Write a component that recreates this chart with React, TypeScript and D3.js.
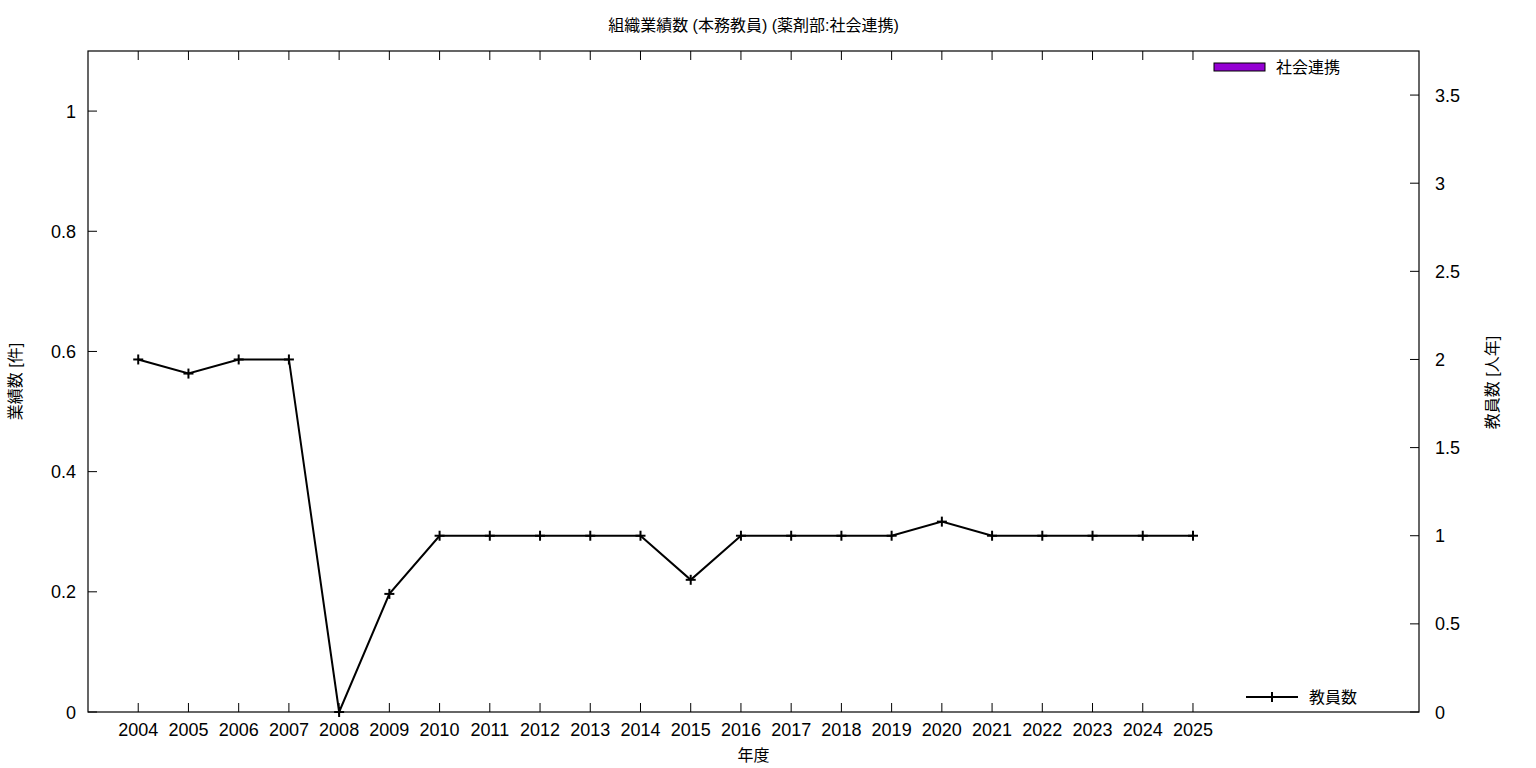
import React from "react";
import * as d3 from "d3";

const years = ["2004","2005","2006","2007","2008","2009","2010","2011","2012","2013","2014","2015","2016","2017","2018","2019","2020","2021","2022","2023","2024","2025"];
const socialValues = [0,0,0,0,0,0,0,0,0,0,0,0,0,0,0,0,0,0,0,0,0,0];
const staffCounts = [2,1.92,2,2,0,0.67,1,1,1,1,1,0.75,1,1,1,1,1.08,1,1,1,1,1];
const leftTicks = [0,0.2,0.4,0.6,0.8,1];
const rightTicks = [0,0.5,1,1.5,2,2.5,3,3.5];

const title = "組織業績数 (本務教員) (薬剤部:社会連携)";
const xTitle = "年度";
const yLeftTitle = "業績数 [件]";
const yRightTitle = "教員数 [人年]";
const barLegend = "社会連携";
const lineLegend = "教員数";

const W = 1536, H = 768;
const L = 88, R = 1419, T = 51, B = 712;
const FONT = "'Liberation Sans', 'Noto Sans CJK JP', sans-serif";

export default function App() {
  const x = d3.scaleLinear().domain([-1, 25.5]).range([L, R]);
  const yL = d3.scaleLinear().domain([0, 1.1]).range([B, T]);
  const yR = d3.scaleLinear().domain([0, 3.75]).range([B, T]);
  const line = d3.line<number>().x((_, i) => x(i)).y(d => yR(d));
  const barW = 0.5;
  return (
    <svg width={W} height={H} style={{ position: "absolute", left: 0, top: 0, background: "#fff" }} fontFamily={FONT}>
      <rect x={0} y={0} width={W} height={H} fill="#fff" />
      <text x={(L + R) / 2} y={31} textAnchor="middle" fontSize={16}>{title}</text>
      {socialValues.map((v, i) => v > 0 ? (
        <rect key={i} x={x(i - barW / 2)} y={yL(v)} width={x(barW) - x(0)} height={B - yL(v)} fill="#9400d3" stroke="#000" />
      ) : null)}
      {leftTicks.map(t => (
        <g key={"l" + t}>
          <line x1={L} x2={L + 9} y1={yL(t)} y2={yL(t)} stroke="#000" />
          <text x={L - 12} y={yL(t) + 6.5} textAnchor="end" fontSize={18}>{String(t)}</text>
        </g>
      ))}
      {rightTicks.map(t => (
        <g key={"r" + t}>
          <line x1={R} x2={R - 9} y1={yR(t)} y2={yR(t)} stroke="#000" />
          <text x={R + 16} y={yR(t) + 6.5} textAnchor="start" fontSize={18}>{String(t)}</text>
        </g>
      ))}
      {years.map((yr, i) => (
        <g key={yr}>
          <line x1={x(i)} x2={x(i)} y1={B} y2={B - 9} stroke="#000" />
          <line x1={x(i)} x2={x(i)} y1={T} y2={T + 9} stroke="#000" />
          <text x={x(i)} y={B + 24} textAnchor="middle" fontSize={18}>{yr}</text>
        </g>
      ))}
      <rect x={L} y={T} width={R - L} height={B - T} fill="none" stroke="#000" strokeWidth={1.2} />
      <text x={(L + R) / 2} y={761} textAnchor="middle" fontSize={16}>{xTitle}</text>
      <text transform={`translate(21,${(T + B) / 2}) rotate(-90)`} textAnchor="middle" fontSize={16}>{yLeftTitle}</text>
      <text transform={`translate(1498,${(T + B) / 2 + 1}) rotate(-90)`} textAnchor="middle" fontSize={16}>{yRightTitle}</text>
      <path d={line(staffCounts) || ""} fill="none" stroke="#000" strokeWidth={2} />
      {staffCounts.map((v, i) => (
        <g key={"m" + i} stroke="#000" strokeWidth={2}>
          <line x1={x(i) - 5} x2={x(i) + 5} y1={yR(v)} y2={yR(v)} />
          <line x1={x(i)} x2={x(i)} y1={yR(v) - 5} y2={yR(v) + 5} />
        </g>
      ))}
      <rect x={1214} y={63} width={51} height={8} fill="#9400d3" stroke="#000" />
      <text x={1276} y={73} fontSize={16}>{barLegend}</text>
      <line x1={1246} x2={1298} y1={697} y2={697} stroke="#000" strokeWidth={2} />
      <line x1={1272} x2={1272} y1={692} y2={702} stroke="#000" strokeWidth={2} />
      <text x={1309} y={703} fontSize={16}>{lineLegend}</text>
    </svg>
  );
}
